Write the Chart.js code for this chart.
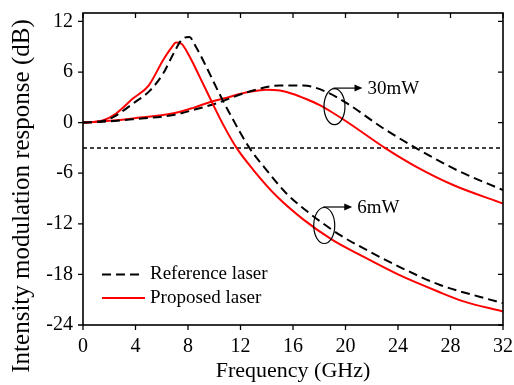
<!DOCTYPE html>
<html>
<head>
<meta charset="utf-8">
<script src="https://cdn.jsdelivr.net/npm/chart.js@4.4.1/dist/chart.umd.min.js"></script>
<style>
  html, body { margin: 0; padding: 0; background: #fff; }
  #wrap { width: 514px; height: 385px; }
</style>
</head>
<body>
<div id="wrap"><canvas id="myChart" width="514" height="385"></canvas></div>
<script>
// Datos (GHz, dB)
const freqRef6 = [0, 1.5, 2.3, 3.8, 5.1, 6.1, 6.9, 7.6, 8.1, 8.6, 9.4, 10.4, 11.45, 12.7, 14, 15.5, 17.3, 19.6, 21.6, 24.1, 27.2, 30.2, 32];
const respRef6 = [0, 0.2, 0.65, 2.25, 3.8, 5.8, 8.2, 9.95, 10.15, 9.0, 6.6, 3.4, 0.3, -3.05, -5.65, -8.4, -10.8, -13.35, -15.1, -17.1, -19.25, -20.65, -21.4];

const freqProp6 = [0, 1.5, 2.5, 3.8, 5, 6.1, 6.7, 7.1, 7.5, 8.1, 8.9, 9.8, 10.7, 11.7, 13, 14.8, 16.8, 19, 21, 24, 27, 29, 32];
const respProp6 = [0, 0.25, 1.05, 2.85, 4.4, 7.4, 8.8, 9.5, 9.35, 7.9, 5.4, 2.5, -0.3, -3, -5.65, -8.8, -11.5, -13.9, -15.6, -18, -20, -21.2, -22.4];

const freqRef30 = [0, 1.5, 3.8, 6.9, 8.4, 10.2, 12.5, 15, 16.8, 18.6, 20.2, 22.9, 25.7, 28.5, 32];
const respRef30 = [0, 0.1, 0.4, 0.9, 1.5, 2.3, 3.6, 4.4, 4.4, 3.6, 2.2, -0.7, -3.3, -5.65, -8.0];

const freqProp30 = [0, 1.5, 3.8, 6.9, 8.4, 9.7, 10.7, 12.5, 14, 15, 16, 17, 18, 19, 20.3, 23, 25.4, 28.2, 32];
const respProp30 = [0, 0.15, 0.5, 1.1, 1.75, 2.45, 2.85, 3.6, 3.9, 3.8, 3.4, 2.8, 2.1, 1.2, -0.1, -3, -5.25, -7.4, -9.6];

const level3dB = -3;
const xTicks = [0, 4, 8, 12, 16, 20, 24, 28, 32];
const yTicks = [-24, -18, -12, -6, 0, 6, 12];
const legendLabels = ['Reference laser', 'Proposed laser'];
const powerLabels = ['30mW', '6mW'];
const powerSpots = [[19.16, 1.9], [18.38, -12.2]]; // centro de las elipses (GHz, dB)
const yTitle = 'Intensity modulation response (dB)';

const SERIF = "'Liberation Serif', 'Times New Roman', serif";

function toPoints(xs, ys) {
    return xs.map((x, i) => ({ x: x, y: ys[i] }));
}

// Marco, marcas de los ejes, leyenda, titulo vertical y anotaciones
const framePlugin = {
    id: 'frame',
    afterDraw(chart) {
        const ctx = chart.ctx;
        const a = chart.chartArea;
        const xs = chart.scales.x;
        const ys = chart.scales.y;
        ctx.save();
        ctx.strokeStyle = '#000';
        ctx.lineWidth = 1.6;
        ctx.strokeRect(a.left, a.top, a.right - a.left, a.bottom - a.top);

        ctx.lineWidth = 1.3;
        ctx.beginPath();
        xTicks.forEach(t => {
            const px = xs.getPixelForValue(t);
            ctx.moveTo(px, a.bottom); ctx.lineTo(px, a.bottom + 5);
            ctx.moveTo(px, a.top); ctx.lineTo(px, a.top + 5);
        });
        yTicks.forEach(t => {
            const py = ys.getPixelForValue(t);
            ctx.moveTo(a.left - 5, py); ctx.lineTo(a.left, py);
            ctx.moveTo(a.right, py); ctx.lineTo(a.right - 5, py);
        });
        ctx.stroke();

        // Titulo del eje Y (mas largo que el area del grafico)
        ctx.save();
        ctx.translate(22, 196);
        ctx.rotate(-Math.PI / 2);
        ctx.font = '25px ' + SERIF;
        ctx.textAlign = 'center';
        ctx.textBaseline = 'middle';
        ctx.fillStyle = '#000';
        ctx.fillText(yTitle, 0, 0);
        ctx.restore();

        // Leyenda
        ctx.font = '19px ' + SERIF;
        ctx.textBaseline = 'middle';
        ctx.fillStyle = '#000';
        const lx = a.left + 19;
        const ly1 = ys.getPixelForValue(-18);
        const ly2 = ys.getPixelForValue(-20.8);
        ctx.lineWidth = 2;
        ctx.strokeStyle = '#000';
        ctx.setLineDash([9, 5]);
        ctx.beginPath(); ctx.moveTo(lx, ly1); ctx.lineTo(lx + 37, ly1); ctx.stroke();
        ctx.setLineDash([]);
        ctx.strokeStyle = '#ff0000';
        ctx.beginPath(); ctx.moveTo(lx, ly2); ctx.lineTo(lx + 43, ly2); ctx.stroke();
        ctx.fillText(legendLabels[0], lx + 48, ly1);
        ctx.fillText(legendLabels[1], lx + 48, ly2);

        // Elipses con flecha
        ctx.strokeStyle = '#000';
        ctx.fillStyle = '#000';
        ctx.lineWidth = 1.2;
        powerSpots.forEach((p, i) => {
            const cx = xs.getPixelForValue(p[0]);
            const cy = ys.getPixelForValue(p[1]);
            ctx.beginPath();
            ctx.ellipse(cx, cy, 10.5, 18, 0, 0, Math.PI * 2);
            ctx.stroke();
            const ay = cy - 18.5;
            ctx.beginPath(); ctx.moveTo(cx - 1, ay); ctx.lineTo(cx + 21, ay); ctx.stroke();
            ctx.beginPath();
            ctx.moveTo(cx + 28, ay); ctx.lineTo(cx + 20, ay - 3.5); ctx.lineTo(cx + 20, ay + 3.5);
            ctx.closePath(); ctx.fill();
            ctx.fillText(powerLabels[i], cx + 33, ay + 1);
        });
        ctx.restore();
    }
};

const context = document.getElementById('myChart');

new Chart(context, {
    type: 'line',
    data: {
        datasets: [
            {
                label: 'Reference laser 6mW',
                data: toPoints(freqRef6, respRef6),
                borderColor: '#000', borderWidth: 2, borderDash: [9, 5],
                pointRadius: 0, cubicInterpolationMode: 'monotone'
            },
            {
                label: 'Proposed laser 6mW',
                data: toPoints(freqProp6, respProp6),
                borderColor: '#ff0000', borderWidth: 2,
                pointRadius: 0, cubicInterpolationMode: 'monotone'
            },
            {
                label: 'Reference laser 30mW',
                data: toPoints(freqRef30, respRef30),
                borderColor: '#000', borderWidth: 2, borderDash: [9, 5],
                pointRadius: 0, cubicInterpolationMode: 'monotone'
            },
            {
                label: 'Proposed laser 30mW',
                data: toPoints(freqProp30, respProp30),
                borderColor: '#ff0000', borderWidth: 2,
                pointRadius: 0, cubicInterpolationMode: 'monotone'
            },
            {
                label: '-3 dB',
                data: [{ x: xTicks[0], y: level3dB }, { x: xTicks[xTicks.length - 1], y: level3dB }],
                borderColor: '#000', borderWidth: 1.5, borderDash: [4, 3],
                pointRadius: 0
            }
        ]
    },
    options: {
        responsive: false,
        animation: false,
        layout: { padding: { top: 13, right: 11, left: 0, bottom: 0 } },
        plugins: {
            legend: { display: false },
            tooltip: { enabled: false }
        },
        scales: {
            x: {
                type: 'linear',
                min: 0, max: 32,
                grid: { display: false, drawTicks: false },
                border: { display: false },
                ticks: {
                    stepSize: 4, padding: 10, color: '#000', maxRotation: 0,
                    font: { family: SERIF, size: 20 }
                },
                title: {
                    display: true, text: 'Frequency (GHz)', color: '#000',
                    font: { family: SERIF, size: 22 },
                    padding: { top: 0, bottom: 1 }
                },
                afterFit: s => { s.height = 60; s.paddingLeft = 0; s.paddingRight = 0; }
            },
            y: {
                type: 'linear',
                min: -24, max: 13,
                grid: { display: false, drawTicks: false },
                border: { display: false },
                afterBuildTicks: s => { s.ticks = yTicks.map(v => ({ value: v })); },
                ticks: {
                    stepSize: 6, padding: 10, color: '#000',
                    font: { family: SERIF, size: 20 }
                },
                title: { display: false },
                afterFit: s => { s.width = 83; s.paddingTop = 0; s.paddingBottom = 0; }
            }
        }
    },
    plugins: [framePlugin]
});
</script>
</body>
</html>
